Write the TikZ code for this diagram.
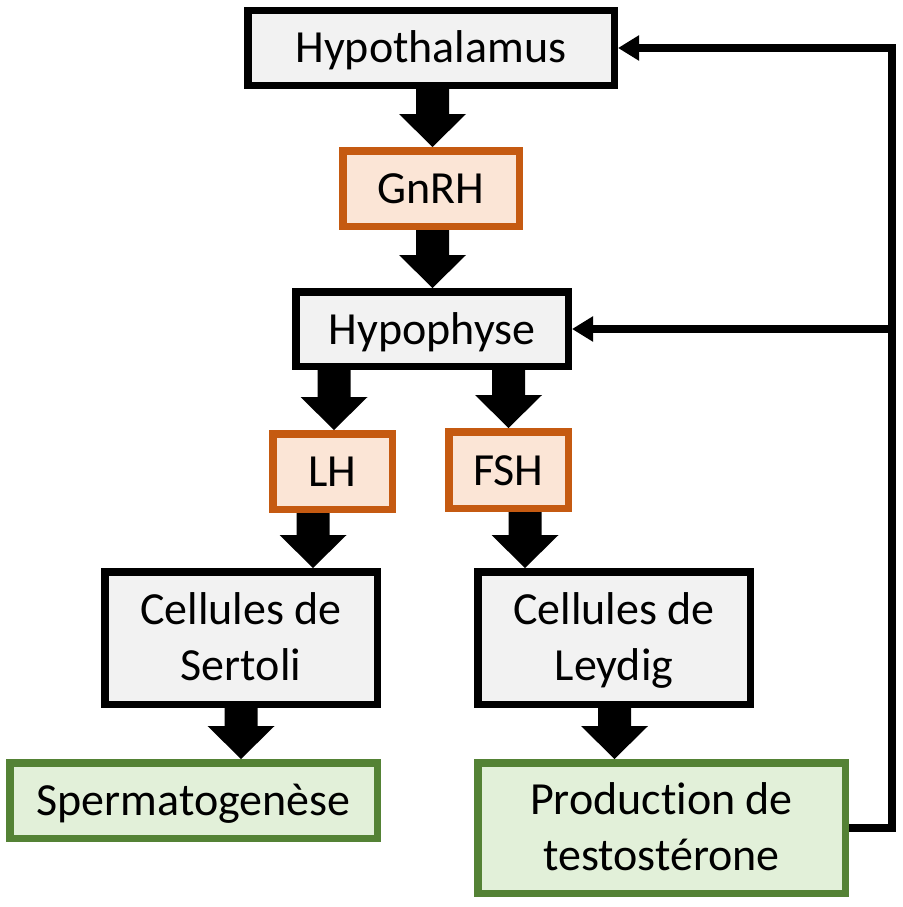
\documentclass[tikz,border=0pt]{standalone}
\usepackage{fontspec}
\setmainfont[Ligatures={NoCommon}]{Carlito}
\usetikzlibrary{calc,arrows.meta}
\definecolor{boxgrey}{HTML}{F2F2F2}
\definecolor{orangeb}{HTML}{C55A11}
\definecolor{orangef}{HTML}{FBE5D6}
\definecolor{greenb}{HTML}{548235}
\definecolor{greenf}{HTML}{E2F0D9}
\begin{document}
\begin{tikzpicture}[x=1pt,y=-1pt,
  box/.style={draw, line width=7.5pt, inner sep=0pt, align=center,
    font=\fontsize{46}{56}\selectfont, text height=38pt, text depth=8pt},
  twoline/.style={text height=93pt, text depth=8pt},
  greybox/.style={box, draw=black, fill=boxgrey},
  hormone/.style={box, draw=orangeb, fill=orangef},
  result/.style={box, draw=greenb, fill=greenf},
  fat/.style={to path={let \p1=(\tikztostart), \p2=(\tikztotarget) in
    (\x1-16.5pt,\y1) -- (\x1-16.5pt,\y2+33pt) -- (\x1-33.5pt,\y2+33pt) -- (\x1,\y2)
    -- (\x1+33.5pt,\y2+33pt) -- (\x1+16.5pt,\y2+33pt) -- (\x1+16.5pt,\y1) -- cycle}},
  feedback/.style={line width=8pt, line join=miter, -{Triangle[length=21pt,width=24pt]}}
]
\useasboundingbox (0,0) rectangle (902,907);

\node[greybox, minimum width=366.5pt, minimum height=74.5pt] (hypoth) at (431,48) {Hypothalamus};
\node[hormone, minimum width=176.5pt, minimum height=75.5pt] (gnrh) at (431,188.5) {GnRH};
\node[greybox, minimum width=272.5pt, minimum height=74.5pt] (hypo) at (432,329) {Hypophyse};
\node[hormone, minimum width=119.5pt, minimum height=75.5pt] (lh) at (332.5,471.5) {LH};
\node[hormone, minimum width=119.5pt, minimum height=76.5pt] (fsh) at (508.5,470) {FSH};
\node[greybox, twoline, minimum width=272.5pt, minimum height=132.5pt] (sertoli) at (241,638) {Cellules de\\Sertoli};
\node[greybox, twoline, minimum width=272.5pt, minimum height=132.5pt] (leydig) at (614,638) {Cellules de\\Leydig};
\node[result, minimum width=367.5pt, minimum height=75.5pt] (sperm) at (193.5,800.5) {Spermatogenèse};
\node[result, twoline, minimum width=367.5pt, minimum height=130.5pt] (prod) at (661.5,828) {Produc\kern0pt tion de\\testostérone};

\coordinate (ax1) at (432.5,0);
\coordinate (ax3) at (334,0);
\coordinate (ax4) at (508.5,0);
\coordinate (ax5) at (313,0);
\coordinate (ax6) at (525,0);
\coordinate (ax7) at (241,0);
\coordinate (ax8) at (614.5,0);
\coordinate (fbx) at (892,0);

\fill[fat] (hypoth.south -| ax1) to (gnrh.north);
\fill[fat] (gnrh.south -| ax1) to (hypo.north);
\fill[fat] (hypo.south -| ax3) to (lh.north);
\fill[fat] (hypo.south -| ax4) to (fsh.north);
\fill[fat] (lh.south -| ax5) to (sertoli.north);
\fill[fat] (fsh.south -| ax6) to (leydig.north);
\fill[fat] (sertoli.south -| ax7) to (sperm.north);
\fill[fat] (leydig.south -| ax8) to (prod.north);

\draw[feedback] (prod.east) -| (fbx |- hypoth.east) -- (hypoth.east);
\draw[feedback] (fbx |- hypo.east) -- (hypo.east);
\end{tikzpicture}
\end{document}
